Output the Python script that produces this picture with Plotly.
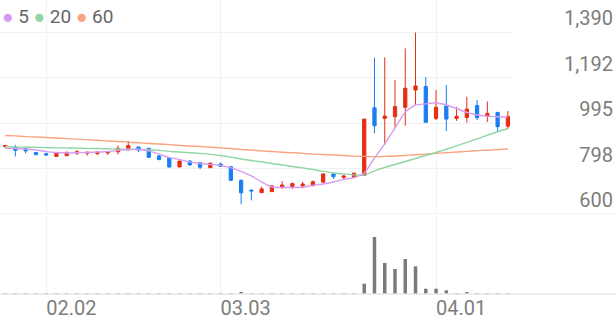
import plotly.graph_objects as go

dates = [
    "2026-01-27", "2026-01-28", "2026-01-29", "2026-01-30", "2026-02-02",
    "2026-02-03", "2026-02-04", "2026-02-05", "2026-02-06", "2026-02-09",
    "2026-02-10", "2026-02-11", "2026-02-12", "2026-02-13", "2026-02-19",
    "2026-02-20", "2026-02-23", "2026-02-24", "2026-02-25", "2026-02-26",
    "2026-02-27", "2026-03-03", "2026-03-04", "2026-03-05", "2026-03-06",
    "2026-03-09", "2026-03-10", "2026-03-11", "2026-03-12", "2026-03-13",
    "2026-03-16", "2026-03-17", "2026-03-18", "2026-03-19", "2026-03-20",
    "2026-03-23", "2026-03-24", "2026-03-25", "2026-03-26", "2026-03-27",
    "2026-03-30", "2026-03-31", "2026-04-01", "2026-04-02", "2026-04-03",
    "2026-04-06", "2026-04-07", "2026-04-08", "2026-04-09", "2026-04-10",
]

open_ = [892, 889, 884, 867, 862, 850, 853, 864, 864, 862,
         865, 870, 878, 891, 885, 852, 844, 804, 830, 823,
         801, 817, 805, 746, 704, 693, 697, 717, 719, 722,
         725, 738, 774, 759, 759, 767, 1061, 1015, 1022, 1063,
         1138, 1153, 1015, 1069, 1015, 1019, 1071, 1025, 1041, 981]
high = [900, 900, 885, 867, 863, 864, 869, 878, 868, 874,
        870, 897, 917, 891, 888, 856, 846, 830, 833, 823,
        821, 823, 807, 751, 704, 719, 726, 743, 737, 740,
        745, 777, 776, 769, 779, 1012, 1279, 1280, 1182, 1319,
        1388, 1195, 1138, 1160, 1065, 1109, 1095, 1088, 1041, 1047]
low = [889, 850, 863, 854, 852, 849, 853, 856, 853, 856,
       856, 859, 878, 868, 843, 833, 801, 804, 810, 794,
       801, 807, 743, 642, 659, 690, 697, 709, 709, 711,
       719, 738, 752, 752, 758, 767, 950, 900, 975, 983,
       1073, 997, 1008, 960, 1004, 997, 1008, 999, 960, 968]
close = [897, 876, 874, 858, 856, 864, 868, 870, 868, 868,
         870, 885, 897, 877, 846, 837, 804, 830, 813, 803,
         821, 807, 746, 692, 700, 709, 722, 726, 732, 730,
         740, 774, 762, 765, 777, 1012, 983, 1025, 1066, 1146,
         1156, 998, 1063, 1012, 1024, 1055, 1018, 1037, 979, 1024]

volume = [90000, 40000, 40000, 90000, 40000, 40000, 40000, 40000, 40000, 90000,
          40000, 40000, 50000, 40000, 40000, 40000, 50000, 40000, 40000, 40000,
          40000, 50000, 60000, 110000, 100000, 90000, 90000, 50000, 40000, 40000,
          50000, 100000, 40000, 40000, 60000, 1030000, 5700000, 3100000, 2500000, 3500000,
          2770000, 530000, 530000, 370000, 100000, 200000, 70000, 70000, 70000, 70000]

ma5 = [885, 884, 882, 878, 871, 867, 865, 866, 867, 869,
       871, 876, 880, 880, 874, 860, 845, 837, 826, 819,
       815, 811, 800, 785, 765, 739, 717, 715, 715, 717,
       724, 730, 739, 750, 758, 778, 843, 904, 973, 1043,
       1073, 1078, 1083, 1073, 1058, 1041, 1030, 1025, 1022, 1020]
ma20 = [892, 891, 890, 889, 888, 887, 887, 886, 885, 884,
        883, 882, 881, 880, 879, 876, 872, 869, 866, 863,
        859, 854, 847, 839, 832, 826, 819, 813, 806, 800,
        793, 785, 778, 774, 770, 769, 787, 802, 815, 828,
        841, 854, 867, 881, 896, 911, 926, 942, 957, 971]
ma60 = [941, 939, 936, 934, 932, 930, 927, 925, 923, 920,
        917, 915, 912, 909, 906, 904, 901, 898, 895, 893,
        890, 887, 884, 880, 878, 874, 871, 868, 866, 863,
        860, 858, 856, 854, 851, 850, 849, 850, 852, 854,
        857, 860, 864, 866, 869, 872, 875, 877, 880, 882]

price_ticks = [600, 797.5, 995, 1192.5, 1390]
price_tick_text = ["600", "798", "995", "1,192", "1,390"]
date_ticks = ["2026-02-02", "2026-03-03", "2026-04-01"]
date_tick_text = ["02.02", "03.03", "04.01"]

RED = "#e62e12"
BLUE = "#1a7ef2"
C5 = "#d79cf2"
C20 = "#8fd6a2"
C60 = "#f9a47f"
GRID = "#f1f1f1"
TXT = "#7d7d7d"

fig = go.Figure()
for vals, col in [(ma60, C60), (ma20, C20), (ma5, C5)]:
    fig.add_trace(go.Scatter(x=dates, y=vals, mode="lines",
                             line=dict(color=col, width=1.4, shape="spline", smoothing=0.6),
                             xaxis="x", yaxis="y", hoverinfo="skip", showlegend=False))
fig.add_trace(go.Candlestick(
    x=dates, open=open_, high=high, low=low, close=close,
    increasing=dict(line=dict(color=RED, width=1), fillcolor=RED),
    decreasing=dict(line=dict(color=BLUE, width=1), fillcolor=BLUE),
    whiskerwidth=0, xaxis="x", yaxis="y", showlegend=False, hoverinfo="skip"))
fig.add_trace(go.Bar(x=dates, y=volume, marker=dict(color="#7a7a7a", line=dict(width=0)),
                     width=0.34, xaxis="x2", yaxis="y2", showlegend=False, hoverinfo="skip"))

W, H = 616, 321
plot_w = 513 / W
fig.update_layout(
    width=W, height=H,
    margin=dict(l=0, r=0, t=0, b=27),
    paper_bgcolor="white", plot_bgcolor="white",
    boxgap=0.55,
    font=dict(family="Roboto", color=TXT),
    xaxis=dict(type="category", domain=[0, plot_w], range=[-0.5, 49.5],
               rangeslider=dict(visible=False), showticklabels=False,
               tickvals=date_ticks, showgrid=True, gridcolor=GRID, gridwidth=1,
               zeroline=False, showline=False, ticks="", anchor="y"),
    xaxis2=dict(type="category", domain=[0, plot_w], range=[-0.5, 49.5], matches="x",
                tickvals=date_ticks, ticktext=date_tick_text, showgrid=True,
                gridcolor=GRID, gridwidth=1, zeroline=False, showline=False, ticks="",
                anchor="y2", ticklabelposition="outside right",
                tickfont=dict(size=20, color=TXT, family="Roboto")),
    yaxis=dict(domain=[80 / 294, 1], range=[600, 1528.9], tickvals=price_ticks,
               ticktext=price_tick_text, showgrid=True, gridcolor=GRID, gridwidth=1,
               zeroline=False, showline=False, ticks="", side="left", anchor="free",
               position=0.995, ticklabelshift=-14,
               tickfont=dict(size=20, color=TXT, family="Roboto")),
    yaxis2=dict(domain=[0, 78 / 294], range=[0, 7800000], autorange=False,
                showticklabels=False, showgrid=False, zeroline=False, showline=False,
                ticks="", anchor="x2"),
    shapes=[
        dict(type="line", xref="paper", yref="y", x0=0, x1=1, y0=600, y1=600,
             line=dict(color="#e6e6e6", width=1)),
        dict(type="line", xref="paper", yref="paper", x0=0, x1=1, y0=0, y1=0,
             line=dict(color="#e6e6e6", width=1.5)),
    ],
    annotations=[
        dict(xref="paper", yref="paper", x=0, y=1, xanchor="left", yanchor="top",
             yshift=-3, xshift=0, showarrow=False,
             text=(f"<span style='color:{C5}'>●</span> 5 "
                   f"<span style='color:{C20}'>●</span> 20 "
                   f"<span style='color:{C60}'>●</span> 60"),
             font=dict(size=19, color="#666666", family="Roboto")),
    ],
)

fig.write_html("out.html")
